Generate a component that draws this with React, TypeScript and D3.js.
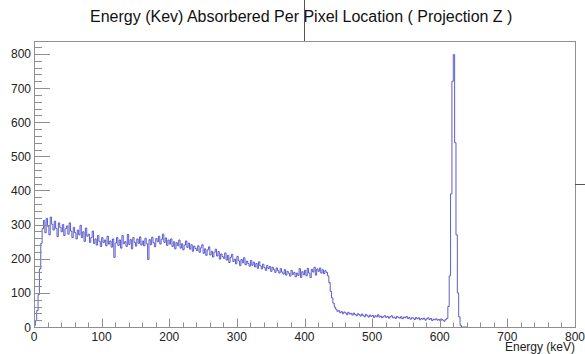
import React, { useEffect, useRef } from "react";
import * as d3 from "d3";

// histogram: 2 keV bins starting at 0 keV
const binWidth = 2;
const counts = [
  4, 18, 48, 95, 170, 245, 288, 312, 276, 318, 295, 270, 322, 301, 284, 310, 289, 265, 305, 292,
  279, 300, 268, 288, 296, 272, 305, 281, 262, 292, 276, 258, 284, 270, 298, 262, 279, 251, 290, 266,
  272, 248, 262, 281, 245, 258, 240, 268, 251, 236, 262, 247, 255, 238, 266, 243, 252, 234, 258, 204,
  246, 262, 239, 255, 231, 268, 244, 250, 236, 271, 242, 256, 229, 262, 248, 237, 258, 245, 264, 240,
  252, 238, 260, 244, 198, 256, 241, 263, 247, 235, 259, 250, 266, 243, 257, 272, 248, 261, 239, 255,
  243, 258, 236, 250, 229, 247, 238, 255, 231, 244, 226, 240, 252, 233, 246, 228, 241, 222, 237, 230,
  224, 238, 219, 232, 241, 216, 229, 210, 226, 235, 211, 222, 205, 219, 228, 208, 221, 199, 214, 206,
  201, 217, 196, 210, 189, 204, 213, 192, 199, 185, 207, 194, 180, 198, 188, 203, 182, 193, 186, 178,
  195, 181, 190, 176, 186, 172, 191, 179, 170, 184, 174, 166, 180, 171, 177, 163, 175, 168, 160, 173,
  165, 158, 171, 161, 155, 168, 152, 163, 157, 149, 166, 154, 160, 147, 158, 151, 171, 145, 162, 153,
  166, 150, 172, 158, 145, 169, 161, 175, 152, 170, 163, 173, 158, 168, 156, 165, 160, 150, 130, 104,
  85, 70, 58, 52, 46, 48, 42, 45, 39, 44, 41, 36, 43, 38, 40, 35, 41, 37, 33, 39,
  36, 32, 38, 34, 30, 37, 33, 29, 35, 31, 34, 28, 33, 30, 36, 29, 32, 27, 31, 33,
  28, 31, 26, 30, 33, 27, 29, 25, 31, 28, 26, 30, 24, 29, 27, 31, 25, 28, 23, 27,
  26, 22, 28, 24, 27, 21, 25, 23, 26, 20, 24, 27, 22, 25, 19, 23, 21, 24, 20, 22,
  18, 23, 20, 17, 22, 25, 60, 150, 390, 720, 798, 540, 270, 100, 30, 5, 0, 0, 0, 0,
];

const xTicks = [0, 100, 200, 300, 400, 500, 600, 700, 800];
const yTicks = [0, 100, 200, 300, 400, 500, 600, 700, 800];

const title = "Energy (Kev) Absorbered Per Pixel Location ( Projection Z )";
const xTitle = "Energy (keV)";

const App = () => {
  const chartRef = useRef(null);

  useEffect(() => {
    drawChart();
  }, []);

  const drawChart = () => {
    const width = 585;
    const height = 354;
    const frame = { left: 34, right: 575, top: 41, bottom: 327 };
    const font = "'Liberation Sans', Arial, Helvetica, sans-serif";

    const svg = d3.select(chartRef.current);
    svg.selectAll("*").remove();
    svg.attr("width", width).attr("height", height);

    svg.append("rect").attr("width", width).attr("height", height).attr("fill", "#fff");

    const x = d3.scaleLinear().domain([0, 800]).range([frame.left, frame.right]);
    const y = d3.scaleLinear().domain([0, 838]).range([frame.bottom, frame.top]);

    // histogram as a step line
    const pts = counts.map((c, i) => [i * binWidth, c]);
    pts.push([counts.length * binWidth, counts[counts.length - 1]]);
    const line = d3
      .line()
      .x((d) => x(d[0]))
      .y((d) => y(d[1]))
      .curve(d3.curveStepAfter);

    svg
      .append("path")
      .datum(pts)
      .attr("fill", "none")
      .attr("stroke", "#4040c4")
      .attr("stroke-width", 0.85)
      .attr("d", line);

    // frame
    svg
      .append("rect")
      .attr("x", frame.left + 0.5)
      .attr("y", frame.top + 0.5)
      .attr("width", frame.right - frame.left)
      .attr("height", frame.bottom - frame.top)
      .attr("fill", "none")
      .attr("stroke", "#8f8f8f");

    // y axis ticks (major every 100, minor every 20)
    const yMinor = d3.range(0, 821, 20);
    svg
      .append("g")
      .selectAll("line")
      .data(yMinor)
      .join("line")
      .attr("x1", frame.left)
      .attr("x2", (d) => frame.left + (yTicks.includes(d) ? 16 : 8))
      .attr("y1", (d) => Math.round(y(d)) + 0.5)
      .attr("y2", (d) => Math.round(y(d)) + 0.5)
      .attr("stroke", "#8f8f8f");

    svg
      .append("g")
      .selectAll("text")
      .data(yTicks)
      .join("text")
      .attr("x", 31)
      .attr("y", (d) => y(d) + 4.5)
      .attr("text-anchor", "end")
      .attr("font-family", font)
      .attr("font-size", 12)
      .attr("fill", "#222")
      .text((d) => d);

    // x axis ticks
    const xMinor = d3.range(0, 801, 20);
    svg
      .append("g")
      .selectAll("line")
      .data(xMinor)
      .join("line")
      .attr("x1", (d) => Math.round(x(d)) + 0.5)
      .attr("x2", (d) => Math.round(x(d)) + 0.5)
      .attr("y1", frame.bottom)
      .attr("y2", (d) => frame.bottom - (xTicks.includes(d) ? 8.5 : 4.5))
      .attr("stroke", "#8f8f8f");

    svg
      .append("g")
      .selectAll("text")
      .data(xTicks)
      .join("text")
      .attr("x", (d) => x(d))
      .attr("y", 341)
      .attr("text-anchor", "middle")
      .attr("font-family", font)
      .attr("font-size", 12)
      .attr("fill", "#222")
      .text((d) => d);

    svg
      .append("text")
      .attr("x", frame.right)
      .attr("y", 351)
      .attr("text-anchor", "end")
      .attr("font-family", font)
      .attr("font-size", 12)
      .attr("fill", "#222")
      .text(xTitle);

    // title and stray pad lines
    svg
      .append("text")
      .attr("x", 90)
      .attr("y", 22)
      .attr("text-anchor", "start")
      .attr("font-family", font)
      .attr("font-size", 16)
      .attr("fill", "#111")
      .text(title);

    svg
      .append("line")
      .attr("x1", 304.5)
      .attr("x2", 304.5)
      .attr("y1", 0)
      .attr("y2", frame.top)
      .attr("stroke", "#555");

    svg
      .append("line")
      .attr("x1", frame.right)
      .attr("x2", width)
      .attr("y1", 184.5)
      .attr("y2", 184.5)
      .attr("stroke", "#555");
  };

  return (
    <svg
      ref={chartRef}
      style={{ position: "absolute", left: 0, top: 0, display: "block" }}
    ></svg>
  );
};

export default App;
